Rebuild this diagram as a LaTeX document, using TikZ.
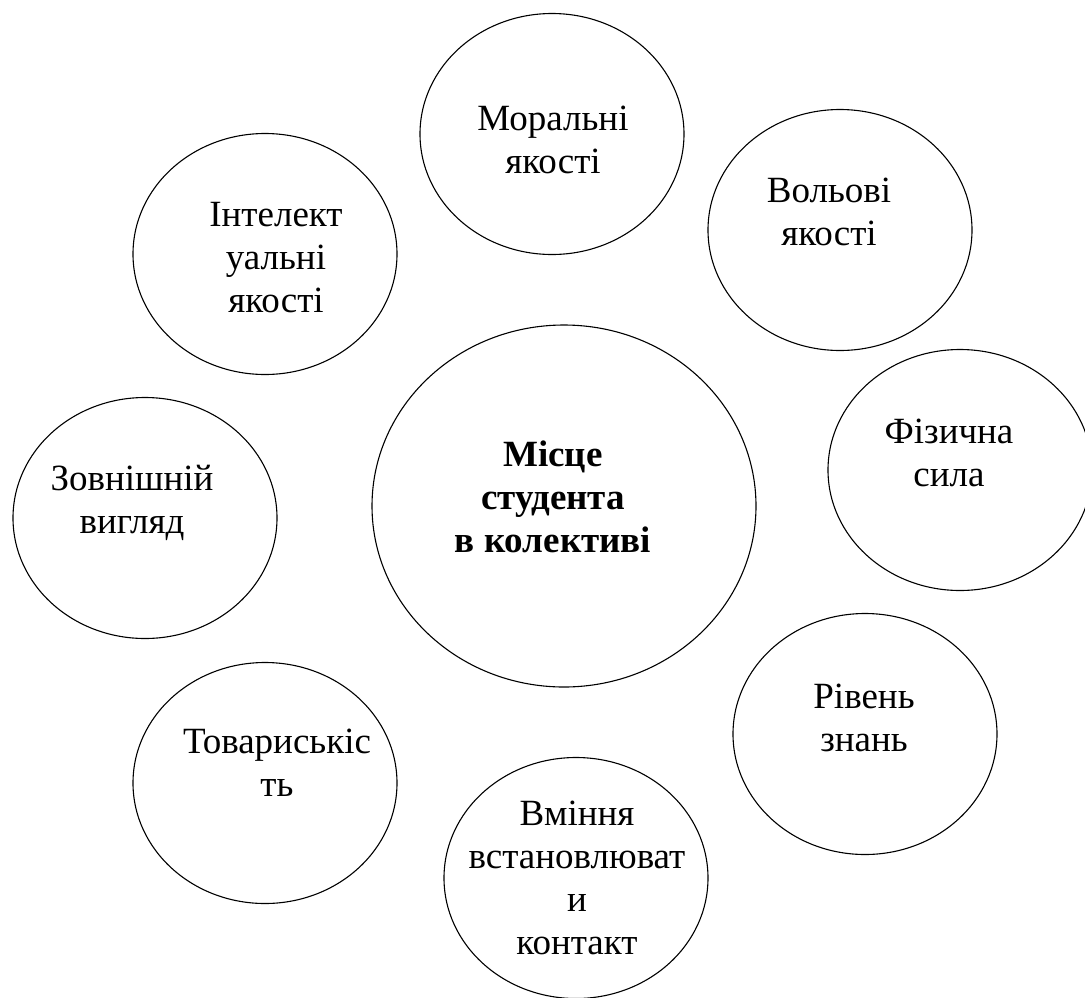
\documentclass[tikz,border=0pt]{standalone}
\usepackage{fontspec}
\setmainfont{Liberation Serif}
\usetikzlibrary{shapes.geometric}
\newcommand\stk[1]{\vtop{\baselineskip=43pt\lineskiplimit=-100pt\halign{\hfil##\hfil\cr #1\crcr}}}
\tikzset{
  ell/.style={draw=black, line width=1.1pt, ellipse, inner sep=0pt,
    minimum width=264pt, minimum height=241pt},
  bigell/.style={ell, minimum width=384pt, minimum height=362pt},
  lbl/.style={anchor=base, inner sep=0pt, font=\fontsize{37}{43}\selectfont},
  blbl/.style={lbl, font=\fontsize{37}{43}\selectfont\bfseries}
}
\begin{document}
\begin{tikzpicture}[x=1pt,y=-1pt]
\useasboundingbox (0,0) rectangle (1085,997);
\clip (0,0) rectangle (1085,997);
\fill[white] (0,0) rectangle (1085,997);
% ellipses
\node[ell] (mor) at (552,134) {};
\node[ell] (vol) at (840,230) {};
\node[ell] (int) at (265,254) {};
\node[bigell] (cen) at (564,506) {};
\node[ell] (fiz) at (960,470) {};
\node[ell] (zov) at (145,518) {};
\node[ell] (riv) at (865,734) {};
\node[ell] (tov) at (265,783) {};
\node[ell] (vmi) at (576,878) {};
% labels
\node[lbl] (tmor) at (553,130) {\stk{Моральні\cr якості}};
\node[lbl] (tvol) at (829,202) {\stk{Вольові\cr якості}};
\node[lbl] (tint) at (276,226) {\stk{Інтелект\cr уальні\cr якості}};
\node[blbl] (tcen) at (553,466) {\stk{Місце\cr студента\cr в колективі}};
\node[lbl] (tfiz) at (949,443) {\stk{Фізична\cr сила}};
\node[lbl] (tzov) at (132,490) {\stk{Зовнішній\cr вигляд}};
\node[lbl] (triv) at (864,708) {\stk{Рівень\cr знань}};
\node[lbl] (ttov) at (277,753) {\stk{Товариськіс\cr ть}};
\node[lbl] (tvmi) at (577,825) {\stk{Вміння\cr встановлюват\cr и\cr контакт}};
\end{tikzpicture}
\end{document}
